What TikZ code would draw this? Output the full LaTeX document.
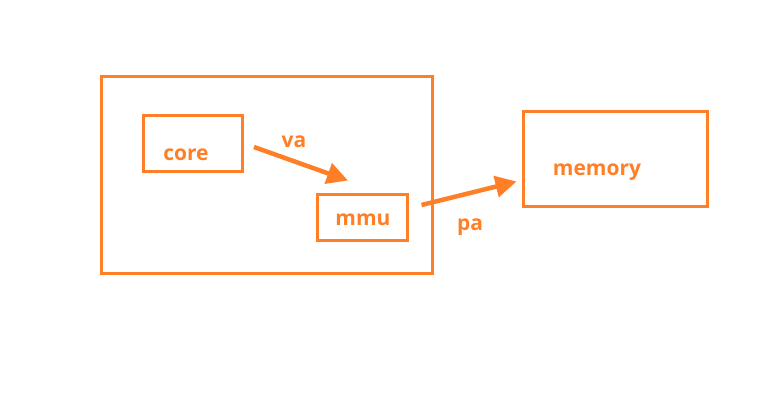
\documentclass[tikz,border=0pt]{standalone}
\usepackage{fontspec}
\setmainfont{Open Sans}
\usetikzlibrary{arrows.meta}
\definecolor{paintorange}{RGB}{255,127,39}
\tikzstyle{box} = [draw=paintorange, line width=3pt, inner sep=0pt]
\tikzstyle{lbl} = [text=paintorange, inner sep=0pt, font={\bfseries\fontsize{21}{24}\selectfont}]
\tikzstyle{link} = [draw=paintorange, line width=4.5pt, -{Triangle[length=21pt,width=21pt]}]

\begin{document}
\begin{tikzpicture}[x=1pt,y=-1pt]
        \useasboundingbox (0,0) rectangle (764,408);
        \node[box,minimum width=330.5pt,minimum height=196.5pt](chip) at (266.75,174.75){};
        \node[box,minimum width=99pt,minimum height=56pt](core) at (193,143.5){};
        \node[box,minimum width=90pt,minimum height=46pt](mmu) at (362.5,217.5){};
        \node[box,minimum width=184pt,minimum height=95pt](memory) at (615.5,159){};
        \node[lbl](coretext) at (186,155){core};
        \node[lbl](mmutext) at (363,220){mmu};
        \node[lbl](memorytext) at (597,172){memory};
        \node[lbl](va) at (294,142){va};
        \node[lbl](pa) at (470,227){pa};
        \draw[link]([xshift=10pt,yshift=-3.5pt]core.east)--([xshift=-14.5pt,yshift=12.5pt]mmu.north);
        \draw[link]([xshift=12.5pt,yshift=12.5pt]mmu.east)--([xshift=-5.5pt,yshift=26.5pt]memory.south west);
      \end{tikzpicture}
\end{document}
